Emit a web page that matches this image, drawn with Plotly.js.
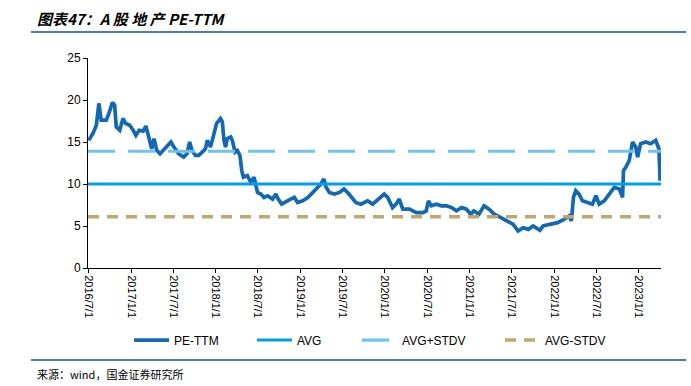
<!DOCTYPE html>
<html>
<head>
<meta charset="utf-8">
<script src="https://cdn.plot.ly/plotly-3.0.1.min.js"></script>
<style>html,body{margin:0;padding:0;background:#fff;}#chart{width:691px;height:386px;}</style>
</head>
<body>
<div id="chart"></div>
<script>
// PE-TTM series
const dates = [
"2016-07-01","2016-07-19","2016-08-03","2016-08-14","2016-08-24","2016-09-15","2016-09-29","2016-10-11","2016-10-21","2016-10-28",
"2016-11-12","2016-11-26","2016-12-08","2016-12-25","2017-01-09","2017-01-21","2017-02-04","2017-02-21","2017-03-05","2017-03-15",
"2017-03-30","2017-04-09","2017-04-21","2017-05-05","2017-05-27","2017-06-21","2017-07-02","2017-07-24","2017-08-15","2017-08-29",
"2017-09-10","2017-09-20","2017-10-05","2017-10-19","2017-11-03","2017-11-17","2017-11-25","2017-12-09","2017-12-24","2018-01-04",
"2018-01-21","2018-01-29","2018-02-05","2018-02-12","2018-02-19","2018-03-06","2018-03-13","2018-03-25","2018-04-04","2018-04-15",
"2018-04-23","2018-04-30","2018-05-17","2018-06-01","2018-06-15","2018-06-22","2018-06-30","2018-07-14","2018-07-28","2018-08-12",
"2018-09-03","2018-09-17","2018-09-27","2018-10-12","2018-10-23","2018-11-14","2018-12-06","2018-12-20","2019-01-11","2019-02-02",
"2019-02-24","2019-03-17","2019-03-31","2019-04-12","2019-04-22","2019-05-06","2019-05-28","2019-06-19","2019-07-08","2019-07-30",
"2019-08-28","2019-09-19","2019-10-03","2019-10-18","2019-11-09","2019-12-07","2019-12-29","2020-01-13","2020-02-03","2020-02-18",
"2020-03-03","2020-03-18","2020-04-16","2020-05-15","2020-06-13","2020-06-27","2020-07-07","2020-07-19","2020-08-10","2020-09-01",
"2020-09-22","2020-10-14","2020-11-05","2020-11-27","2020-12-18","2021-01-05","2021-01-19","2021-02-10","2021-03-04","2021-03-26",
"2021-04-17","2021-05-16","2021-06-14","2021-07-08","2021-07-29","2021-08-20","2021-09-11","2021-10-02","2021-10-31","2021-11-14",
"2021-12-13","2022-01-15","2022-02-12","2022-03-06","2022-03-16","2022-03-25","2022-04-04","2022-04-18","2022-05-03","2022-05-25",
"2022-06-15","2022-06-30","2022-07-14","2022-08-05","2022-08-26","2022-09-17","2022-10-09","2022-10-23","2022-10-27","2022-11-06",
"2022-11-21","2022-12-05","2022-12-19","2022-12-27","2023-01-09","2023-01-31","2023-02-21","2023-03-15","2023-03-29","2023-03-31",
"2023-04-03","2023-04-04"
];
const peTTM = [
15.2,16.0,17.0,19.6,17.6,17.6,18.6,19.7,19.4,16.8,
16.4,17.8,17.2,17.0,16.4,15.8,16.4,16.3,16.9,15.8,
14.2,15.4,14.0,13.6,14.2,15.0,14.5,13.6,13.2,13.6,
15.0,14.0,13.4,13.4,13.8,14.2,15.2,14.4,16.0,17.2,
17.8,17.4,15.2,14.4,15.4,15.6,15.2,13.8,14.0,13.4,
11.6,10.8,11.0,10.2,10.8,10.0,9.0,8.8,8.4,8.6,
8.2,8.8,8.2,7.6,7.8,8.1,8.4,7.8,8.0,8.4,
9.0,9.6,10.0,10.6,9.6,9.0,8.8,9.0,9.4,8.8,
7.8,7.6,7.8,8.0,7.6,8.2,8.8,8.4,7.2,7.6,
8.2,7.0,7.0,6.6,6.6,6.8,8.0,7.4,7.6,7.4,
7.4,7.2,6.8,7.2,7.0,6.4,6.8,6.4,7.4,7.0,
6.4,6.0,5.6,5.2,4.4,4.8,4.6,5.0,4.5,5.0,
5.2,5.4,5.8,6.2,5.6,8.4,9.2,8.8,8.0,7.8,
7.6,8.6,7.6,8.0,8.8,9.6,9.4,8.4,11.6,12.0,
12.8,15.0,14.4,13.2,14.8,15.0,14.8,15.2,14.2,12.0,
10.4,11.8
];
// reference levels
const avgValue = 10.0;
const avgPlusStd = 13.9;
const avgMinusStd = 6.1;
const levelDates = ["2016-06-28","2023-04-07"];
// axis ticks
const tickDates = ["2016-07-01","2017-01-01","2017-07-01","2018-01-01","2018-07-01","2019-01-01","2019-07-01",
"2020-01-01","2020-07-01","2021-01-01","2021-07-01","2022-01-01","2022-07-01","2023-01-01"];
const tickLabels = ["2016/7/1","2017/1/1","2017/7/1","2018/1/1","2018/7/1","2019/1/1","2019/7/1",
"2020/1/1","2020/7/1","2021/1/1","2021/7/1","2022/1/1","2022/7/1","2023/1/1"];
const seriesNames = ["PE-TTM","AVG","AVG+STDV","AVG-STDV"];

const traces = [
  {x: dates, y: peTTM, name: seriesNames[0], type: "scatter", mode: "lines", legend: "legend",
   line: {color: "#1368b3", width: 3.7}},
  {x: levelDates, y: [avgValue, avgValue], name: seriesNames[1], type: "scatter", mode: "lines", legend: "legend2",
   line: {color: "#00a0e9", width: 3}},
  {x: levelDates, y: [avgPlusStd, avgPlusStd], name: seriesNames[2], type: "scatter", mode: "lines", legend: "legend3",
   line: {color: "#6ec3f0", width: 3.2, dash: "27px,13px"}},
  {x: levelDates, y: [avgMinusStd, avgMinusStd], name: seriesNames[3], type: "scatter", mode: "lines", legend: "legend4",
   line: {color: "#c4a56a", width: 3.4, dash: "11px,8px"}}
];

function leg(x) {
  return {orientation: "h", x: x, xanchor: "left", y: -0.343, yanchor: "middle",
          font: {size: 12, color: "#000"}, bgcolor: "rgba(0,0,0,0)", itemwidth: 35};
}

const layout = {
  width: 691, height: 386,
  margin: {l: 88, r: 30, t: 58, b: 118},
  paper_bgcolor: "#fff", plot_bgcolor: "#fff",
  font: {family: "Liberation Sans, Arial, sans-serif", size: 12, color: "#000"},
  showlegend: true,
  legend: leg(0.0716), legend2: leg(0.2862), legend3: leg(0.4695), legend4: leg(0.7190),
  xaxis: {type: "date", range: levelDates, tickmode: "array", tickvals: tickDates, ticktext: tickLabels,
          tickangle: 90, ticks: "outside", ticklen: 4, tickcolor: "#000", showline: true, linecolor: "#000",
          linewidth: 1, showgrid: false, zeroline: false, tickfont: {size: 11, color: "#000"}},
  yaxis: {range: [0, 25], dtick: 5, tick0: 0, ticks: "outside", ticklen: 4, tickcolor: "#000",
          showline: true, linecolor: "#000", linewidth: 1, showgrid: false, zeroline: false,
          tickfont: {size: 12, color: "#000"}},
  shapes: [
    {type: "line", xref: "paper", yref: "paper", x0: -0.0995, x1: 1.044, y0: 1.124, y1: 1.124,
     line: {color: "#4a7fa6", width: 2}},
    {type: "line", xref: "paper", yref: "paper", x0: -0.0995, x1: 1.044, y0: -0.438, y1: -0.438,
     line: {color: "#4a7fa6", width: 2}}
  ],
  annotations: [
    {text: "<b><i>图表47：A 股 地 产 PE-TTM</i></b>", xref: "paper", yref: "paper", x: -0.093, y: 1.19,
     xanchor: "left", yanchor: "middle", showarrow: false,
     font: {family: "Noto Sans CJK SC, sans-serif", size: 15, color: "#000"}},
    {text: "来源：wind，国金证券研究所", xref: "paper", yref: "paper", x: -0.093, y: -0.505,
     xanchor: "left", yanchor: "middle", showarrow: false,
     font: {family: "Noto Sans CJK SC, sans-serif", size: 11, color: "#000"}}
  ]
};

Plotly.newPlot("chart", traces, layout, {displayModeBar: false, staticPlot: true});
</script>
</body>
</html>
